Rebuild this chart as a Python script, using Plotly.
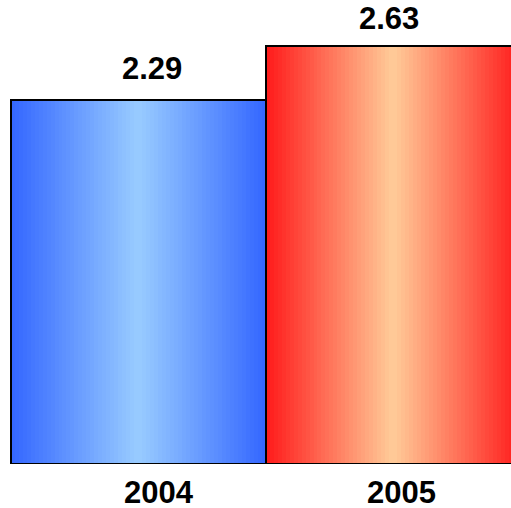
import plotly.graph_objects as go

categories = ["2004", "2005"]
values = [2.29, 2.63]
edge_colors = [(51, 102, 255), (255, 26, 26)]
center_colors = [(153, 204, 255), (255, 204, 153)]

N = 64
xs, ys, cols, ws = [], [], [], []
for i, v in enumerate(values):
    e, c = edge_colors[i], center_colors[i]
    for k in range(N):
        pos = (k + 0.5) / N
        t = 1 - abs(pos - 0.5) * 2  # 0 at edge, 1 at center
        col = tuple(round(e[j] + (c[j] - e[j]) * t) for j in range(3))
        xs.append(i - 0.5 + pos)
        ys.append(v)
        cols.append("rgb(%d,%d,%d)" % col)
        ws.append(1.0 / N * 1.15)

fig = go.Figure()
fig.add_trace(go.Bar(x=xs, y=ys, width=ws, marker=dict(color=cols, line=dict(width=0)),
                     hoverinfo="skip", showlegend=False))
fig.add_trace(go.Bar(x=[0, 1], y=values, width=[1, 1],
                     marker=dict(color="rgba(0,0,0,0)", line=dict(color="black", width=2)),
                     showlegend=False))

font = dict(family="Liberation Sans", size=31, color="black")
val_xshift = [14, -4]
val_yshift = [31, 27]
cat_xshift = [21, 8]
for i, v in enumerate(values):
    fig.add_annotation(x=i, y=v, xref="x", yref="y", text="<b>%.2f</b>" % v, showarrow=False,
                       xshift=val_xshift[i], yshift=val_yshift[i], font=font,
                       xanchor="center", yanchor="middle")
    fig.add_annotation(x=i, y=0, xref="x", yref="y", text="<b>%s</b>" % categories[i], showarrow=False,
                       xshift=cat_xshift[i], yshift=-28, font=font,
                       xanchor="center", yanchor="middle")

fig.update_layout(
    width=531, height=508, barmode="overlay", bargap=0,
    margin=dict(l=0, r=0, t=0, b=44),
    paper_bgcolor="white", plot_bgcolor="white",
    xaxis=dict(range=[-0.5431, 1.5393], visible=False, fixedrange=True),
    yaxis=dict(range=[0, 2.919], visible=False, fixedrange=True),
)
fig.write_html("out.html", config={"responsive": False, "displayModeBar": False},
               post_script="document.body.style.margin='0';document.body.style.overflow='hidden';")
